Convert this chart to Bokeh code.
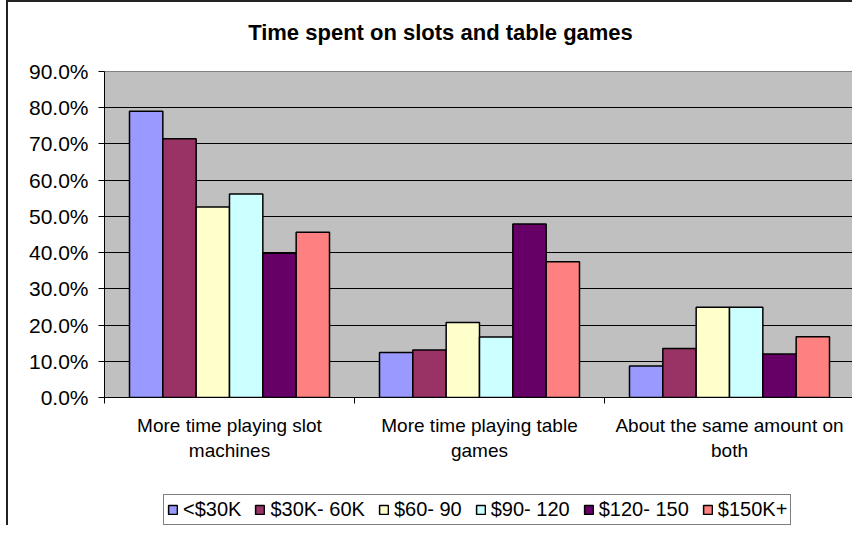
from bokeh.plotting import figure
from bokeh.layouts import column
from bokeh.models import (ColumnDataSource, Range1d, FixedTicker, NumeralTickFormatter,
                          Legend, LegendItem, Label)
from bokeh.transform import dodge
from bokeh.embed import file_html
from bokeh.resources import INLINE

# ---- data ----
title_text = "Time spent on slots and table games"
categories = ["More time playing slot machines", "More time playing table games",
              "About the same amount on both"]
category_labels = ["More time playing slot\nmachines", "More time playing table\ngames",
                   "About the same amount on\nboth"]
series_names = ["<$30K", "$30K- 60K", "$60- 90", "$90- 120", "$120- 150", "$150K+"]
under_30k = [0.790, 0.124, 0.087]
k30_60 = [0.714, 0.131, 0.135]
k60_90 = [0.526, 0.207, 0.249]
k90_120 = [0.562, 0.167, 0.249]
k120_150 = [0.398, 0.479, 0.120]
k150_plus = [0.456, 0.375, 0.168]
y_ticks = [0.0, 0.1, 0.2, 0.3, 0.4, 0.5, 0.6, 0.7, 0.8, 0.9]

series_values = [under_30k, k30_60, k60_90, k90_120, k120_150, k150_plus]
colors = ["#9999FF", "#993366", "#FFFFCC", "#CCFFFF", "#660066", "#FF8080"]

FONT = "Liberation Sans"
BORDER = "2px solid #222222"
W = 846

centers = [i + 0.5 for i in range(len(categories))]
data = {"x": centers}
for i, vals in enumerate(series_values):
    data[f"s{i}"] = vals
source = ColumnDataSource(data)

# ---- title strip ----
tf = figure(width=W, height=50, output_backend="svg", toolbar_location=None,
            x_range=Range1d(0, 1), y_range=Range1d(0, 1), title=None,
            x_axis_location=None, y_axis_location=None,
            min_border_left=96, min_border_right=0, min_border_top=0, min_border_bottom=0)
tf.styles = {"border-top": BORDER, "border-left": BORDER}
tf.grid.visible = False
tf.outline_line_color = None
tf.background_fill_color = "white"
tf.border_fill_color = "white"
tf.add_layout(Label(x=0.448, y=0.40, text=title_text, text_align="center",
                    text_baseline="middle", text_font=FONT, text_font_style="bold",
                    text_font_size="22px", text_color="black"))

# ---- main chart ----
p = figure(width=W, height=421, output_backend="svg", toolbar_location=None,
           x_range=Range1d(0, len(categories)), y_range=Range1d(0, 0.9), title=None,
           min_border_left=96, min_border_right=0, min_border_top=21,
           min_border_bottom=74)
p.styles = {"border-left": BORDER}

p.background_fill_color = "#C0C0C0"
p.border_fill_color = "white"
p.outline_line_color = "#808080"
p.outline_line_width = 1

bar_w = 1.0 / 7.5
n = len(series_names)
offsets = [(i - (n - 1) / 2) * bar_w for i in range(n)]
bar_renderers = []
for i in range(n):
    r = p.vbar(x=dodge("x", offsets[i], range=p.x_range), top=f"s{i}", width=bar_w, bottom=0,
               source=source, fill_color=colors[i], line_color="black", line_width=1.5)
    bar_renderers.append(r)

# y axis
p.yaxis.ticker = FixedTicker(ticks=y_ticks)
p.yaxis.formatter = NumeralTickFormatter(format="0.0%")
p.yaxis.major_tick_out = 6
p.yaxis.major_tick_in = 0
p.yaxis.minor_tick_line_color = None
p.yaxis.axis_line_color = "black"
p.yaxis.major_tick_line_color = "black"
p.yaxis.major_label_text_font = FONT
p.yaxis.major_label_text_font_size = "21px"
p.yaxis.major_label_text_color = "black"
p.yaxis.major_label_standoff = 10

# x axis
p.xaxis.ticker = FixedTicker(ticks=centers, minor_ticks=list(range(len(categories) + 1)))
p.xaxis.major_label_overrides = {c: lab for c, lab in zip(centers, category_labels)}
p.xaxis.major_tick_line_color = None
p.xaxis.minor_tick_out = 6
p.xaxis.minor_tick_in = 0
p.xaxis.minor_tick_line_color = "black"
p.xaxis.axis_line_color = "black"
p.xaxis.major_label_text_font = FONT
p.xaxis.major_label_text_font_size = "19px"
p.xaxis.major_label_text_color = "black"
p.xaxis.major_label_standoff = 11

# grid
p.xgrid.grid_line_color = None
p.ygrid.ticker = FixedTicker(ticks=y_ticks)
p.ygrid.grid_line_color = "black"
p.ygrid.grid_line_width = 1

# ---- legend strip (same series, hidden renderers) ----
lf = figure(width=W, height=54, output_backend="svg", toolbar_location=None,
            x_range=Range1d(0, len(categories)), y_range=Range1d(0, 0.9), title=None,
            x_axis_location=None, y_axis_location=None,
            min_border_left=96, min_border_right=0, min_border_top=0, min_border_bottom=0)
lf.styles = {"border-left": BORDER}
lf.grid.visible = False
lf.outline_line_color = None
lf.background_fill_color = "white"
lf.border_fill_color = "white"
leg_renderers = []
for i in range(n):
    r = lf.vbar(x=dodge("x", offsets[i], range=lf.x_range), top=f"s{i}", width=bar_w,
                bottom=0, source=source, fill_color=colors[i], line_color="black",
                line_width=1.5, visible=False)
    leg_renderers.append(r)

items = [LegendItem(label=series_names[i], renderers=[leg_renderers[i]]) for i in range(n)]
legend = Legend(items=items, orientation="horizontal", location=(59, 0))
legend.border_line_color = "black"
legend.border_line_width = 1
legend.background_fill_color = "white"
legend.background_fill_alpha = 1
legend.inactive_fill_alpha = 0
legend.label_text_font = FONT
legend.label_text_font_size = "20px"
legend.label_text_color = "black"
legend.glyph_width = 11
legend.glyph_height = 11
legend.label_standoff = 5
legend.spacing = 13
legend.padding = 3
legend.margin = 0
lf.add_layout(legend, "center")

layout = column(tf, p, lf, spacing=0)
layout.styles = {"margin-left": "6px"}
open("out.html", "w").write(file_html(layout, INLINE))
